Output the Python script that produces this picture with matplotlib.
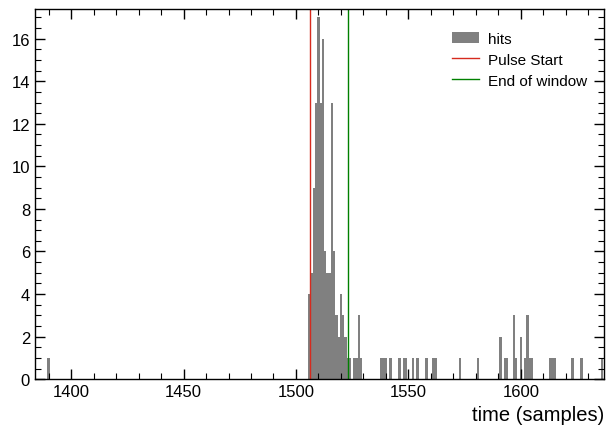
import numpy as np
import matplotlib
matplotlib.use("Agg")
import matplotlib.pyplot as plt
from matplotlib.ticker import MultipleLocator

plt.rcParams['font.family'] = ['Liberation Sans', 'DejaVu Sans']

# hit time (bin centre, samples) and number of hits in that bin
times = [1390,
         1506, 1507, 1508, 1509, 1510, 1511, 1512, 1513, 1514, 1515,
         1516, 1517, 1518, 1519, 1520, 1521, 1522, 1523, 1524,
         1526, 1527, 1528, 1529, 1538, 1539, 1540, 1542, 1546, 1548,
         1549, 1552, 1554, 1558, 1561, 1562, 1573, 1581, 1591, 1593,
         1594, 1597, 1598, 1600, 1602, 1603, 1604, 1605, 1613, 1614,
         1615, 1623, 1627, 1636]
counts = [1,
          4, 5, 9, 13, 17, 13, 16, 6, 5, 5,
          13, 6, 3, 2, 4, 3, 2, 1, 1,
          1, 1, 3, 1, 1, 1, 1, 1, 1, 1,
          1, 1, 1, 1, 1, 1, 1, 1, 2, 1,
          1, 3, 1, 2, 1, 3, 1, 1, 1, 1,
          1, 1, 1, 1]

pulse_start = 1506.3
window_end = 1523.2

edges = np.arange(1383.5, 1637.5, 1.0)

fig = plt.figure(figsize=(6.12, 4.31), dpi=100)
ax = fig.add_axes([0.057, 0.118, 0.930, 0.859])

ax.hist(times, bins=edges, weights=counts, color='grey', histtype='bar',
        rwidth=1.0, label='hits')
ax.axvline(pulse_start, color='#d62a1e', lw=1.0, label='Pulse Start')
ax.axvline(window_end, color='green', lw=1.0, label='End of window')

ax.set_xlim(1383.9, 1637)
ax.set_ylim(0, 17.4)

ax.xaxis.set_major_locator(MultipleLocator(50))
ax.xaxis.set_minor_locator(MultipleLocator(10))
ax.yaxis.set_major_locator(MultipleLocator(2))
ax.yaxis.set_minor_locator(MultipleLocator(0.5))
ax.tick_params(which='both', direction='in', top=True, right=True, labelsize=12)
ax.tick_params(which='major', length=7, width=1)
ax.tick_params(which='minor', length=4, width=0.8)
for s in ax.spines.values():
    s.set_linewidth(1.0)

ax.set_xlabel('time (samples)', fontsize=14.5, loc='right')
ax.legend(loc='upper right', frameon=False, fontsize=11,
          bbox_to_anchor=(0.995, 0.975), handlelength=1.75,
          labelspacing=0.45, handletextpad=0.6)

fig.savefig('out.png', dpi=100)
